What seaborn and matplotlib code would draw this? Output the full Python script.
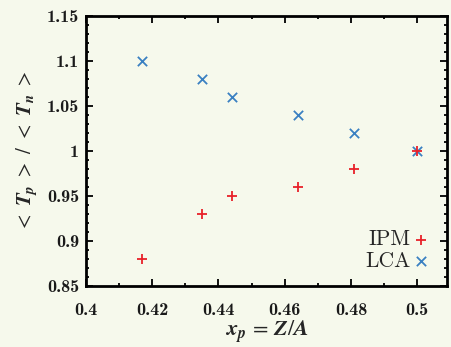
import matplotlib
matplotlib.use("Agg")
import matplotlib.pyplot as plt
from matplotlib.ticker import MultipleLocator
import seaborn as sns
import pandas as pd

# Proton fraction x_p = Z/A and temperature ratio <T_p>/<T_n> for two models
x_p = [0.417, 0.435, 0.444, 0.464, 0.481, 0.500]
ipm_ratio = [0.88, 0.93, 0.95, 0.96, 0.98, 1.00]
lca_ratio = [1.10, 1.08, 1.06, 1.04, 1.02, 1.00]
x_ticks = [0.4, 0.42, 0.44, 0.46, 0.48, 0.5]
y_ticks = [0.85, 0.9, 0.95, 1, 1.05, 1.1, 1.15]

bg = "#f6f9ec"
red = "#e8212a"
blue = "#3a80c2"

sns.set_theme(style="ticks")
plt.rcParams["mathtext.fontset"] = "custom"
plt.rcParams["mathtext.it"] = "STIXGeneral:italic:bold"
plt.rcParams["mathtext.rm"] = "STIXGeneral"
plt.rcParams["mathtext.bf"] = "STIXGeneral:bold"
plt.rcParams["font.family"] = ["cmb10", "DejaVu Serif"]

df_ipm = pd.DataFrame({"x": x_p, "y": ipm_ratio})
df_lca = pd.DataFrame({"x": x_p, "y": lca_ratio})

fig = plt.figure(figsize=(4.51, 3.47), dpi=100, facecolor=bg)
ax = fig.add_axes([0.1907, 0.1758, 0.8003, 0.7781])
ax.set_facecolor(bg)

sns.scatterplot(data=df_lca, x="x", y="y", marker="x", color=blue, s=45,
                linewidth=1.3, ax=ax, label="LCA", zorder=3)
sns.scatterplot(data=df_ipm, x="x", y="y", marker="+", color=red, s=55,
                linewidth=1.3, ax=ax, label="IPM", zorder=4)

ax.set_xlim(0.4, 0.509)
ax.set_ylim(0.85, 1.15)
ax.set_xticks(x_ticks)
ax.set_yticks(y_ticks)
ax.set_xticklabels([f"{v:g}" for v in x_ticks])
ax.set_yticklabels([f"{v:g}" for v in y_ticks])
ax.xaxis.set_minor_locator(MultipleLocator(0.01))
ax.yaxis.set_minor_locator(MultipleLocator(0.01))

for s in ax.spines.values():
    s.set_linewidth(2.0)
    s.set_color("black")
ax.tick_params(which="both", direction="in", top=True, right=True,
               color="black", width=1.3, labelsize=13, labelcolor="#1a1a1a")
ax.tick_params(which="major", length=5, pad=5)
ax.tick_params(axis="x", which="major", pad=12)
ax.tick_params(which="minor", length=2.5)

ax.set_xlabel(r"$x_p\,=\,Z/A$", fontsize=16, labelpad=1)
ax.set_ylabel(r"$<\ T_p\ >\ /\ <\ T_n\ >$", fontsize=15, labelpad=5)

handles, labels = ax.get_legend_handles_labels()
order = [labels.index("IPM"), labels.index("LCA")]
leg = ax.legend([handles[i] for i in order], [labels[i] for i in order],
                loc="lower right", frameon=False, markerfirst=False,
                handletextpad=0.0, handlelength=1.0, labelspacing=0.1,
                borderaxespad=0.3, prop={"family": "cmr10", "size": 15.5})

fig.savefig("out.png", dpi=100, facecolor=bg)
